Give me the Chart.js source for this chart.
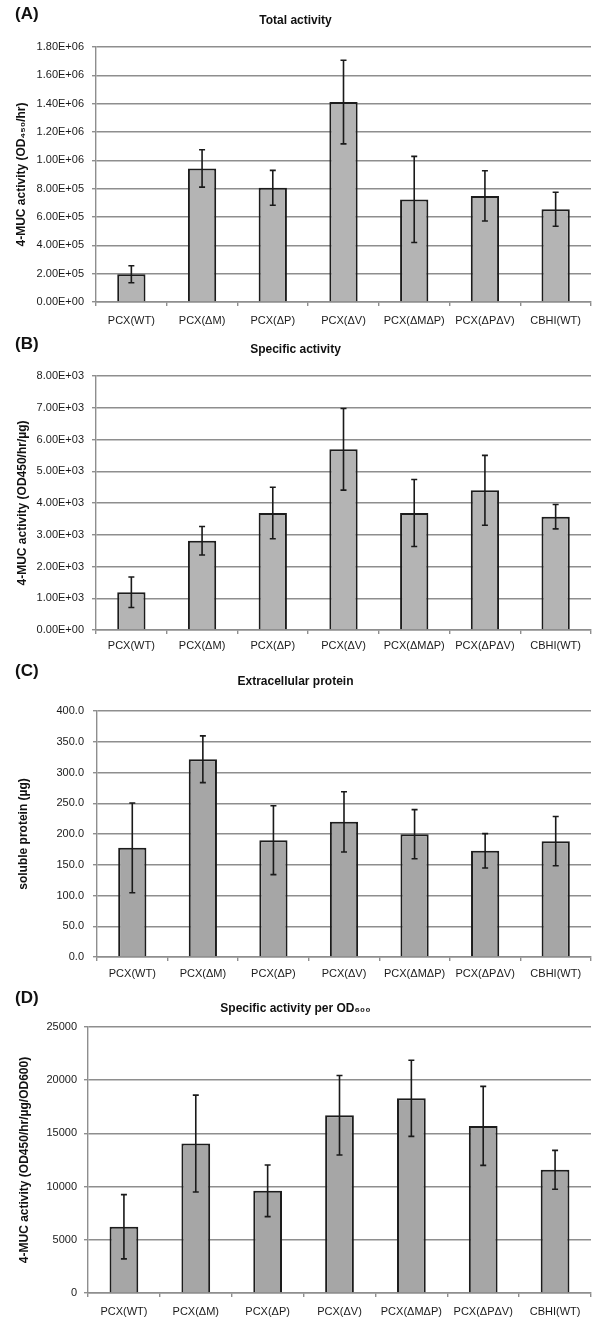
<!DOCTYPE html>
<html lang="en">
<head>
    <meta charset="UTF-8">
    <title>PCX activity panels</title>
    <script src="https://cdn.jsdelivr.net/npm/chart.js"></script>
    <style>
        body { margin: 0; background: #fff; width: 600px; height: 1331px; position: relative; overflow: hidden; }
        .panel { position: absolute; left: 0; width: 600px; }
        .tag { position: absolute; left: 15px; font: bold 17px "Liberation Sans", Arial, sans-serif; color: #111; }
    </style>
</head>
<body>
    <div class="panel" style="top:0px"><canvas id="chartA" width="600" height="330"></canvas><div class="tag" style="top:4px">(A)</div></div>
    <div class="panel" style="top:330px"><canvas id="chartB" width="600" height="322"></canvas><div class="tag" style="top:4px">(B)</div></div>
    <div class="panel" style="top:652px"><canvas id="chartC" width="600" height="330"></canvas><div class="tag" style="top:9px">(C)</div></div>
    <div class="panel" style="top:982px"><canvas id="chartD" width="600" height="349"></canvas><div class="tag" style="top:6px">(D)</div></div>
    <script>
        const categories = ['PCX(WT)', 'PCX(ΔM)', 'PCX(ΔP)', 'PCX(ΔV)', 'PCX(ΔMΔP)', 'PCX(ΔPΔV)', 'CBHI(WT)'];

        // (A) total activity
        const totalActivity = [196000, 943000, 806000, 1411000, 724000, 749000, 655000];
        const totalActivityErr = [60000, 132000, 123000, 295000, 304000, 177000, 120000];
        // (B) specific activity
        const specificActivity = [1187, 2810, 3685, 5690, 3685, 4400, 3570];
        const specificActivityErr = [480, 450, 810, 1285, 1055, 1100, 385];
        // (C) extracellular protein
        const solubleProtein = [177.5, 321.5, 190.0, 219.8, 199.7, 172.6, 188.4];
        const solubleProteinErr = [73, 38, 56, 49, 40, 28, 40];
        // (D) specific activity per OD600
        const perOD600 = [6225, 14045, 9605, 16705, 18300, 15705, 11575];
        const perOD600Err = [3020, 4550, 2425, 3740, 3580, 3710, 1830];

        const FONT = '"Liberation Sans", Arial, sans-serif';
        const GRID = '#8e8e8e';

        function sci(v) {
            if (v === 0) return '0.00E+00';
            const e = Math.floor(Math.log10(v) + 1e-9);
            const m = v / Math.pow(10, e);
            return m.toFixed(2) + 'E+' + String(e).padStart(2, '0');
        }

        // draws the +/- error bars on top of each bar
        const errorBars = {
            id: 'errorBars',
            afterDatasetsDraw(chart, args, opts) {
                const ctx = chart.ctx;
                const y = chart.scales.y;
                const meta = chart.getDatasetMeta(0);
                const data = chart.data.datasets[0].data;
                ctx.save();
                ctx.strokeStyle = '#1a1a1a';
                ctx.lineWidth = 1.6;
                meta.data.forEach((bar, i) => {
                    const top = y.getPixelForValue(data[i] + opts.err[i]);
                    const bot = y.getPixelForValue(data[i] - opts.err[i]);
                    ctx.beginPath();
                    ctx.moveTo(bar.x, top); ctx.lineTo(bar.x, bot);
                    ctx.moveTo(bar.x - 3, top); ctx.lineTo(bar.x + 3, top);
                    ctx.moveTo(bar.x - 3, bot); ctx.lineTo(bar.x + 3, bot);
                    ctx.stroke();
                });
                ctx.restore();
            }
        };

        function makePanel(id, p) {
            const lh = 14.4;
            new Chart(document.getElementById(id), {
                type: 'bar',
                data: {
                    labels: categories,
                    datasets: [{
                        data: p.values,
                        backgroundColor: p.fill,
                        borderColor: '#1c1c1c',
                        borderWidth: 2,
                        barPercentage: 0.4,
                        categoryPercentage: 1.0
                    }]
                },
                options: {
                    responsive: false,
                    animation: false,
                    layout: { padding: { left: 0, right: 9, top: 0, bottom: 0 } },
                    plugins: {
                        legend: { display: false },
                        tooltip: { enabled: false },
                        title: {
                            display: true,
                            text: p.title,
                            color: '#111',
                            font: { family: FONT, size: 12, weight: 'bold' },
                            padding: { top: p.titleCy - lh / 2, bottom: p.top - p.titleCy - lh / 2 }
                        },
                        errorBars: { err: p.err }
                    },
                    scales: {
                        x: {
                            grid: { display: true, drawOnChartArea: false, offset: true, tickLength: 4, color: GRID, lineWidth: 1.4 },
                            border: { color: GRID, width: 1.4 },
                            ticks: { color: '#1a1a1a', font: { family: FONT, size: 11 }, padding: p.xPad, maxRotation: 0, autoSkip: false },
                            afterFit: s => { s.height = p.H - p.bottom; }
                        },
                        y: {
                            min: 0, max: p.max,
                            grid: { color: GRID, lineWidth: 1.4, tickLength: 4 },
                            border: { color: GRID, width: 1.4 },
                            ticks: { stepSize: p.step, color: '#1a1a1a', font: { family: FONT, size: 11 }, padding: p.yPad, callback: p.fmt },
                            title: {
                                display: true,
                                text: p.yTitle,
                                color: '#111',
                                font: { family: FONT, size: 12, weight: 'bold' },
                                padding: { top: p.yTitleCx - lh / 2, bottom: 0 }
                            },
                            afterFit: s => { s.width = p.left; }
                        }
                    }
                },
                plugins: [errorBars]
            });
        }

        makePanel('chartA', {
            values: totalActivity, err: totalActivityErr, fill: '#b4b4b4',
            title: 'Total activity', yTitle: '4-MUC activity (OD₄₅₀/hr)',
            max: 1800000, step: 200000, fmt: v => sci(v),
            H: 330, top: 47, bottom: 302, left: 96, titleCy: 21, xPad: 8, yPad: 8, yTitleCx: 22
        });
        makePanel('chartB', {
            values: specificActivity, err: specificActivityErr, fill: '#b4b4b4',
            title: 'Specific activity', yTitle: '4-MUC activity (OD450/hr/µg)',
            max: 8000, step: 1000, fmt: v => sci(v),
            H: 322, top: 46, bottom: 300, left: 96, titleCy: 20, xPad: 5, yPad: 8, yTitleCx: 23
        });
        makePanel('chartC', {
            values: solubleProtein, err: solubleProteinErr, fill: '#a6a6a6',
            title: 'Extracellular protein', yTitle: 'soluble protein (µg)',
            max: 400, step: 50, fmt: v => v.toFixed(1),
            H: 330, top: 59, bottom: 305, left: 97, titleCy: 30, xPad: 6, yPad: 9, yTitleCx: 24
        });
        makePanel('chartD', {
            values: perOD600, err: perOD600Err, fill: '#a6a6a6',
            title: 'Specific activity per OD₆₀₀', yTitle: '4-MUC activity (OD450/hr/µg/OD600)',
            max: 25000, step: 5000, fmt: v => String(v),
            H: 349, top: 45, bottom: 311, left: 88, titleCy: 27, xPad: 8, yPad: 7, yTitleCx: 25
        });
    </script>
</body>
</html>
